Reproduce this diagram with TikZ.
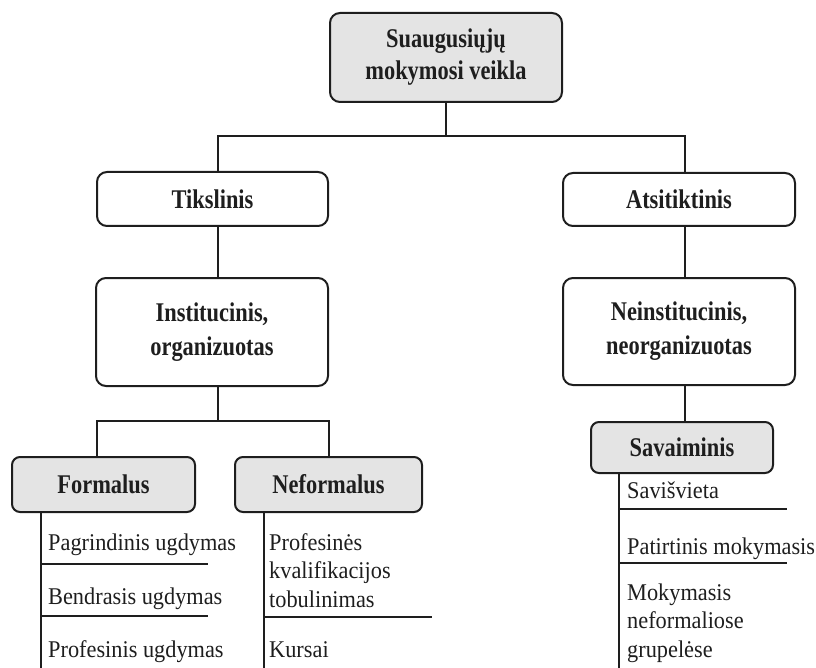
\documentclass[tikz,border=0pt]{standalone}
\usepackage{fontspec}
\newfontfamily\boxfont{Liberation Serif}[FakeStretch=0.83]
\newfontfamily\itemfont{Liberation Serif}[FakeStretch=0.93]
\definecolor{boxgray}{RGB}{228,228,228}
\definecolor{ink}{RGB}{30,30,30}
\tikzset{
  box/.style={draw=ink, line width=2pt, rounded corners=10pt, fill=white,
    align=center, inner sep=0pt, text=ink,
    font=\boxfont\bfseries\fontsize{27}{32}\selectfont},
  graybox/.style={box, fill=boxgray},
  item/.style={anchor=base west, inner sep=0pt, text=ink,
    font=\itemfont\fontsize{24}{28.5}\selectfont},
  link/.style={draw=ink, line width=2pt},
}
\begin{document}
\begin{tikzpicture}[x=1pt, y=-1pt]
\useasboundingbox (0,0) rectangle (816,668);

% hierarchy boxes
\node[graybox, minimum width=232, minimum height=89] (root) at (446,57.5) {Suaugusiųjų\\mokymosi veikla};
\node[box, minimum width=231, minimum height=54] (tik) at (212.5,199) {Tikslinis};
\node[box, minimum width=232, minimum height=53] (atsi) at (679,199.5) {Atsitiktinis};
\node[box, minimum width=232, minimum height=108] (inst) at (212,332) {Institucinis,\\[2pt]organizuotas};
\node[box, minimum width=232, minimum height=107] (neinst) at (679,331.5) {Neinstitucinis,\\[2pt]neorganizuotas};
\node[graybox, rounded corners=8pt, minimum width=183, minimum height=55] (formal) at (103.5,484.5) {Formalus};
\node[graybox, rounded corners=8pt, minimum width=187, minimum height=55] (neform) at (328.5,484.5) {Neformalus};
\node[graybox, rounded corners=8pt, minimum width=182, minimum height=51] (sav) at (682,447.5) {Savaiminis};

% junction points of the tree
\coordinate (jL) at (218,136);
\coordinate (jR) at (685,136);
\coordinate (sL) at (97,421);
\coordinate (sR) at (329,421);

% tree connectors
\draw[link] (root.south) -- (root.south |- jL);
\draw[link] (tik.north -| jL) -- (jL) -- (jR) -- (atsi.north -| jR);
\draw[link] (tik.south -| jL) -- (inst.north -| jL);
\draw[link] (inst.south -| jL) -- (jL |- sL);
\draw[link] (formal.north -| sL) -- (sL) -- (sR) -- (neform.north -| sR);
\draw[link] (atsi.south -| jR) -- (neinst.north -| jR);
\draw[link] (neinst.south -| jR) -- (sav.north -| jR);

% list rails and separators
\coordinate (fB) at (41,668);
\coordinate (f1) at (208,564);
\coordinate (f2) at (208,616);
\draw[link] (formal.south -| fB) -- (fB);
\draw[link] (fB |- f1) -- (f1);
\draw[link] (fB |- f2) -- (f2);

\coordinate (nB) at (264,668);
\coordinate (n1) at (432,617);
\draw[link] (neform.south -| nB) -- (nB);
\draw[link] (nB |- n1) -- (n1);

\coordinate (sB) at (619,668);
\coordinate (s1) at (787,509);
\coordinate (s2) at (787,563);
\draw[link] (sav.south -| sB) -- (sB);
\draw[link] (sB |- s1) -- (s1);
\draw[link] (sB |- s2) -- (s2);

% list entries
\node[item] (fa) at (48,550) {Pagrindinis ugdymas};
\node[item] (fb) at (48,604) {Bendrasis ugdymas};
\node[item] (fc) at (48,657) {Profesinis ugdymas};

\node[item] (na1) at (269,550) {Profesinės};
\node[item] (na2) at (269,578.5) {kvalifikacijos};
\node[item] (na3) at (269,607) {tobulinimas};
\node[item] (nb) at (269,657) {Kursai};

\node[item] (sa) at (627,498) {Savišvieta};
\node[item] (sb) at (627,554) {Patirtinis mokymasis};
\node[item] (sc1) at (627,600) {Mokymasis};
\node[item] (sc2) at (627,628.5) {neformaliose};
\node[item] (sc3) at (627,657) {grupelėse};
\end{tikzpicture}
\end{document}
